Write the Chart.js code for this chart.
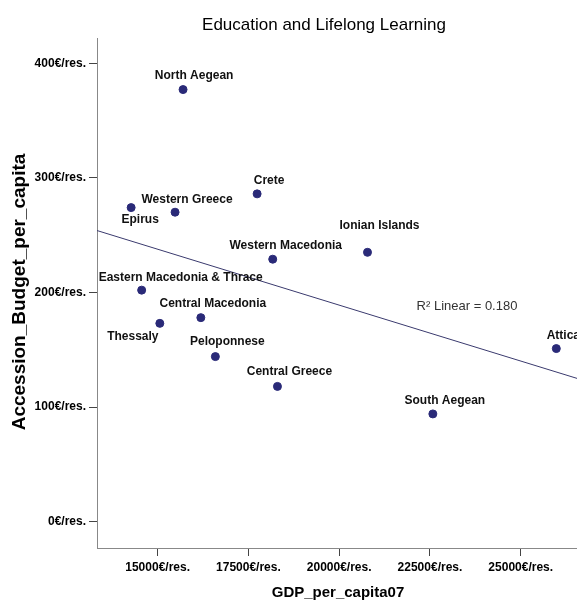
<!DOCTYPE html>
<html lang="en">
<head>
    <meta charset="UTF-8">
    <title>Education and Lifelong Learning</title>
    <script src="https://cdn.jsdelivr.net/npm/chart.js"></script>
    <style>
        body {
            margin: 0;
            padding: 0;
            background-color: #fff;
        }
        #chart {
            display: block;
        }
    </style>
</head>
<body>
    <canvas id="chart" width="577" height="603"></canvas>

    <script>
        // Regions of Greece
        const regions = [
            'North Aegean', 'Crete', 'Western Greece', 'Epirus', 'Western Macedonia',
            'Ionian Islands', 'Eastern Macedonia & Thrace', 'Central Macedonia', 'Thessaly',
            'Peloponnese', 'Central Greece', 'Attica', 'South Aegean'
        ];
        const gdpPerCapita = [15700, 17740, 15480, 14270, 18170, 20780, 14560, 16190, 15060, 16590, 18300, 25980, 22580];
        const budgetPerCapita = [377, 286, 270, 274, 229, 235, 202, 178, 173, 144, 118, 151, 94];

        // linear fit line, end points
        const fitX = [13330, 26550];
        const fitY = [254, 125];
        const fitLabel = 'R\u00B2 Linear = 0.180';

        const xTickValues = [15000, 17500, 20000, 22500, 25000];
        const yTickValues = [0, 100, 200, 300, 400];
        const tickSuffix = '\u20AC/res.';

        // label placement relative to each dot (layout only)
        const labelDx = [11, 12, 12, 9, 13, 12, 39, 12, -27, 12, 12, 7, 12];
        const labelDy = [-14, -13, -13, 12, -14, -27, -12, -14, 13, -15, -15, -13, -13];

        const dotColor = '#2a2a78';
        const labelFont = 'bold 12px "Liberation Sans", Arial, sans-serif';

        // draws titles, point labels and the R2 note
        const textPlugin = {
            id: 'texts',
            afterDatasetsDraw(chart) {
                const ctx = chart.ctx;
                const meta = chart.getDatasetMeta(0);
                ctx.save();
                ctx.textAlign = 'center';
                ctx.textBaseline = 'middle';
                ctx.fillStyle = '#111';
                ctx.font = labelFont;
                meta.data.forEach((pt, i) => {
                    ctx.fillText(regions[i], pt.x + labelDx[i], pt.y + labelDy[i]);
                });

                ctx.fillStyle = '#333';
                ctx.font = '13px "Liberation Sans", Arial, sans-serif';
                ctx.fillText(fitLabel, 467, 306);

                ctx.fillStyle = '#000';
                ctx.font = '17px "Liberation Sans", Arial, sans-serif';
                ctx.fillText('Education and Lifelong Learning', 324, 25);

                ctx.font = 'bold 15px "Liberation Sans", Arial, sans-serif';
                ctx.fillText('GDP_per_capita07', 338, 593);

                ctx.translate(20, 292);
                ctx.rotate(-Math.PI / 2);
                ctx.font = 'bold 19px "Liberation Sans", Arial, sans-serif';
                ctx.fillText('Accession_Budget_per_capita', 0, 0);
                ctx.restore();
            }
        };

        const points = gdpPerCapita.map((x, i) => ({ x: x, y: budgetPerCapita[i] }));
        const fitLine = fitX.map((x, i) => ({ x: x, y: fitY[i] }));

        new Chart(document.getElementById('chart').getContext('2d'), {
            type: 'scatter',
            data: {
                datasets: [{
                    label: 'Regions',
                    data: points,
                    backgroundColor: dotColor,
                    borderColor: dotColor,
                    pointRadius: 4,
                    pointHoverRadius: 4
                }, {
                    type: 'line',
                    label: 'Linear fit',
                    data: fitLine,
                    borderColor: '#3a3a6e',
                    borderWidth: 1,
                    pointRadius: 0,
                    fill: false
                }]
            },
            options: {
                responsive: false,
                animation: false,
                layout: {
                    autoPadding: false,
                    padding: { top: 38, left: 0, right: 0, bottom: 0 }
                },
                plugins: {
                    legend: { display: false },
                    tooltip: { enabled: false }
                },
                scales: {
                    x: {
                        type: 'linear',
                        min: 13330,
                        max: 26550,
                        afterBuildTicks: s => { s.ticks = xTickValues.map(v => ({ value: v })); },
                        afterFit: s => { s.height = 55; },
                        ticks: {
                            callback: v => v + tickSuffix,
                            color: '#000',
                            font: { family: '"Liberation Sans", Arial, sans-serif', size: 12, weight: 'bold' },
                            padding: 4,
                            maxRotation: 0,
                            autoSkip: false
                        },
                        grid: { drawOnChartArea: false, tickLength: 8, color: '#444' },
                        border: { color: '#888', width: 1 }
                    },
                    y: {
                        type: 'linear',
                        min: -23,
                        max: 422,
                        afterBuildTicks: s => { s.ticks = yTickValues.map(v => ({ value: v })); },
                        afterFit: s => { s.width = 97; },
                        ticks: {
                            callback: v => v + tickSuffix,
                            color: '#000',
                            font: { family: '"Liberation Sans", Arial, sans-serif', size: 12, weight: 'bold' },
                            padding: 3,
                            autoSkip: false
                        },
                        grid: { drawOnChartArea: false, tickLength: 8, color: '#444' },
                        border: { color: '#888', width: 1 }
                    }
                }
            },
            plugins: [textPlugin]
        });
    </script>
</body>
</html>
